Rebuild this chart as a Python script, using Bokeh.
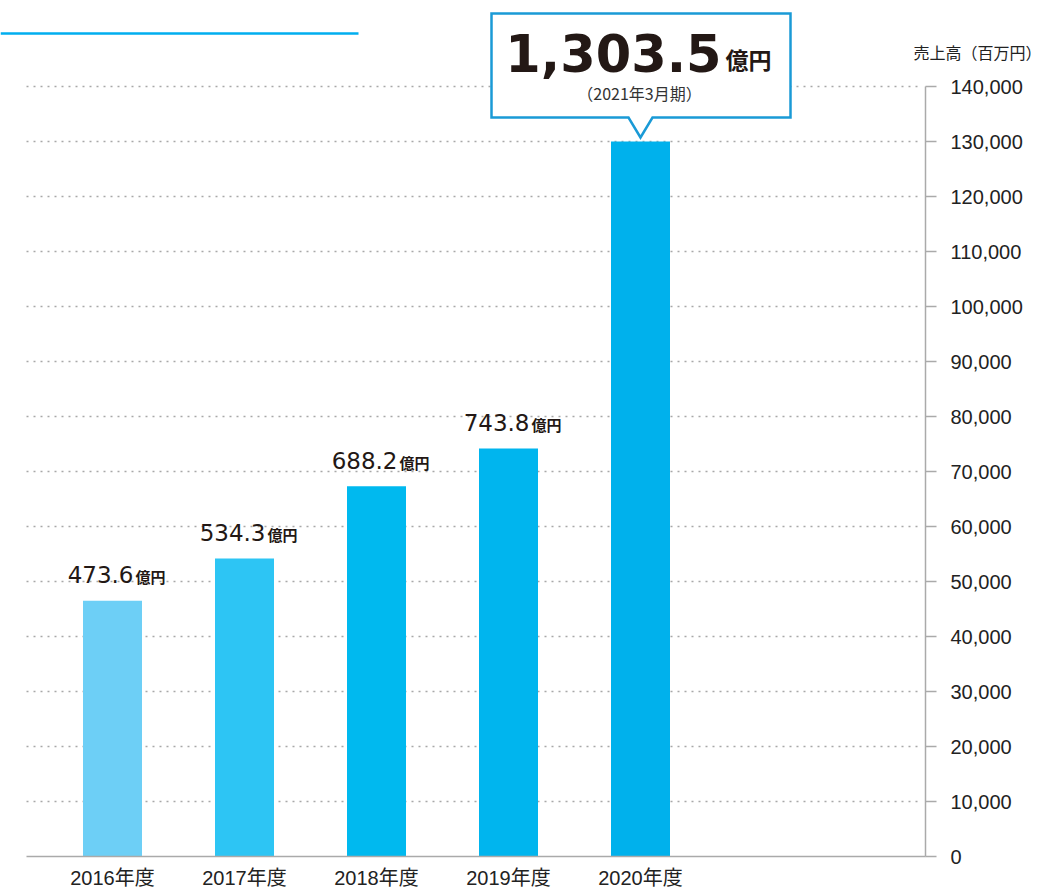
from bokeh.plotting import figure
from bokeh.models import Range1d, FixedTicker, NumeralTickFormatter
from bokeh.core.properties import value
from bokeh.embed import file_html
from bokeh.resources import INLINE

# ---------------- data ----------------
years = ["2016", "2017", "2018", "2019", "2020"]
x_labels = ["2016年度", "2017年度", "2018年度", "2019年度", "2020年度"]
sales = [46500, 54200, 67300, 74200, 130000]          # 売上高 (百万円), bar heights as drawn
label_values = ["473.6", "534.3", "688.2", "743.8"]   # 億円 labels for the first four bars
highlight_value = "1,303.5"
highlight_period = "（2021年3月期）"
unit = "億円"
y_ticks = [0, 10000, 20000, 30000, 40000, 50000, 60000, 70000,
           80000, 90000, 100000, 110000, 120000, 130000, 140000]
y_title = "売上高（百万円）"
bar_colors = ["#6dcff6", "#2dc5f4", "#00b9ef", "#00b5ee", "#00b1ec"]

# ---------------- layout ----------------
FIG_W, FIG_H = 1045, 891
BASE_PX = 856             # pixel row of the zero line
PX_PER_X = 132.0          # pixels per category step
PX_PER_Y = 0.0055         # pixels per 百万円
x_start = -112.0 / PX_PER_X
x_end = x_start + FIG_W / PX_PER_X
y_end = BASE_PX / PX_PER_Y
y_start = -(FIG_H - BASE_PX) / PX_PER_Y


def dx(px):
    return px / PX_PER_X


def dy(px):
    return px / PX_PER_Y


def px_x(px):
    return x_start + dx(px)


def px_y(py):
    return y_end - dy(py)


p = figure(width=FIG_W, height=FIG_H,
           x_range=Range1d(x_start, x_end), y_range=Range1d(y_start, y_end),
           output_backend="svg", toolbar_location=None,
           y_axis_location="right",
           min_border_left=0, min_border_top=0,
           min_border_right=0, min_border_bottom=0)
p.outline_line_color = None
p.xgrid.visible = False
p.ygrid.visible = False
p.background_fill_color = "white"
p.border_fill_color = "white"

# dotted grid lines
grid_x0 = px_x(26)
grid_x1 = px_x(918)
gy = y_ticks[1:]
p.segment(x0=[grid_x0] * len(gy), y0=gy, x1=[grid_x1] * len(gy), y1=gy,
          line_color="#a8a8a8", line_width=1.5, line_dash="2 5")

# header rule
hy = px_y(33)
p.segment(x0=[px_x(0)], y0=[hy], x1=[px_x(358)], y1=[hy],
          line_color="#00aeef", line_width=2.5)

# bars
xs = list(range(len(years)))
p.vbar(x=xs, top=sales, bottom=0, width=dx(59), fill_color=bar_colors, line_color=None)

# value labels for first four bars
n = len(label_values)
p.text(x=xs[:n], y=sales[:n], text=label_values, x_offset=21, y_offset=-26,
       text_align="right", text_baseline="alphabetic",
       text_font=value("DejaVu Sans"), text_font_size="23px", text_color="#231815")
p.text(x=xs[:n], y=sales[:n], text=[unit] * n, x_offset=23, y_offset=-24,
       text_align="left", text_baseline="alphabetic",
       text_font=value("Noto Sans CJK JP"), text_font_style="bold",
       text_font_size="15px", text_color="#231815")

# callout for latest year
cx = xs[-1]
top = sales[-1]
tip_y = top + dy(4)
box_b = top + dy(24)
box_t = top + dy(128)
px_ = [cx - dx(149), cx - dx(12), cx, cx + dx(12), cx + dx(150), cx + dx(150), cx - dx(149)]
py_ = [box_b, box_b, tip_y, box_b, box_b, box_t, box_t]
p.patch(px_, py_, fill_color="white", line_color="#1a9ad6", line_width=2.5, line_join="miter")

p.text(x=[cx], y=[top], text=[highlight_value], x_offset=81, y_offset=-89,
       text_align="right", text_baseline="alphabetic",
       text_font=value("DejaVu Sans"), text_font_style="bold",
       text_font_size="51px", text_color="#231815")
p.text(x=[cx], y=[top], text=[unit], x_offset=85, y_offset=-83,
       text_align="left", text_baseline="alphabetic",
       text_font=value("Noto Sans CJK JP"), text_font_style="bold",
       text_font_size="23px", text_color="#231815")
p.text(x=[cx], y=[top], text=[highlight_period], x_offset=-1, y_offset=-49,
       text_align="center", text_baseline="middle",
       text_font=value("Noto Sans CJK JP"), text_font_size="16px", text_color="#333333")

# y-axis title
p.text(x=[px_x(1041)], y=[px_y(51)], text=[y_title],
       text_align="right", text_baseline="middle",
       text_font=value("Noto Sans CJK JP"), text_font_size="16px",
       text_color="#222222")

# y axis (right, pinned at its place inside the frame)
ya = p.yaxis[0]
ya.fixed_location = px_x(925)
ya.ticker = FixedTicker(ticks=y_ticks)
ya.formatter = NumeralTickFormatter(format="0,0")
ya.bounds = (y_ticks[0], y_ticks[-1])
ya.major_tick_in = 0
ya.major_tick_out = 11
ya.minor_tick_line_color = None
ya.axis_line_color = "#aaaaaa"
ya.axis_line_width = 1.5
ya.major_tick_line_color = "#aaaaaa"
ya.major_tick_line_width = 1.5
ya.major_label_standoff = 14
ya.major_label_text_font = "'Liberation Sans', 'Noto Sans CJK JP'"
ya.major_label_text_font_size = "20px"
ya.major_label_text_color = "#222222"

# x axis (bottom, pinned at the zero line)
xa = p.xaxis[0]
xa.fixed_location = 0
xa.ticker = FixedTicker(ticks=xs)
xa.major_label_overrides = {i: lbl for i, lbl in zip(xs, x_labels)}
xa.bounds = (grid_x0, px_x(925))
xa.major_tick_line_color = None
xa.major_tick_in = 0
xa.major_tick_out = 0
xa.minor_tick_line_color = None
xa.axis_line_color = "#aaaaaa"
xa.axis_line_width = 1.5
xa.major_label_standoff = 10
xa.major_label_text_font = "'Liberation Sans', 'Noto Sans CJK JP'"
xa.major_label_text_font_size = "20px"
xa.major_label_text_color = "#222222"

open("out.html", "w").write(file_html(p, INLINE))
